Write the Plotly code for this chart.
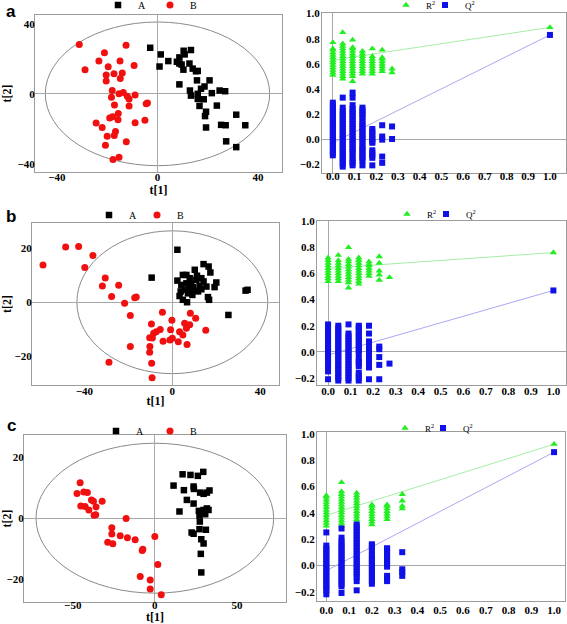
import plotly.graph_objects as go

W, H = 567, 624

# ---------------- score plot data ----------------
a_A_x = [-2.9, 1.3, 0.8, 4.3, 7.7, 8.7, 10.4, 13.3, 10.8, 9.6, 10.3, 8.7, 12.7, 14.0, 15.3, 16.0, 15.7, 8.7, 20.7, 18.7,
         17.3, 12.9, 13.3, 16.0, 16.0, 18.4, 21.6, 24.7, 26.9, 16.7, 23.6, 19.3, 18.9, 25.3, 27.1, 19.3, 31.3, 34.9, 27.3, 31.3]
a_A_y = [26.3, 22.5, 15.6, 18.7, 18.3, 20.8, 24.6, 25.0, 22.5, 16.7, 13.8, 17.3, 17.3, 14.4, 12.9, 13.1, 7.7, 5.4, 7.7, 4.2,
         2.9, 1.9, -1.0, 0.0, -2.9, -3.1, 0.4, 1.9, 1.5, -6.9, -6.7, -10.2, -12.7, -17.7, -17.9, -19.2, -11.9, -17.9, -27.1, -30.4]
a_B_x = [-31.1, -12.5, -28.8, -21.1, -23.3, -19.6, -14.9, -9.3, -20.4, -17.3, -14.0, -20.4, -14.8, -18.0, -18.3, -15.3, -13.6,
         -12.0, -11.3, -8.9, -17.1, -11.3, -4.5, -4.0, -15.6, -19.0, -17.9, -15.7, -8.9, -5.0, -24.4, -22.0, -16.7, -17.2, -20.0,
         -12.4, -20.7, -15.3, -17.7]
a_B_y = [28.1, 27.7, 13.8, 23.5, 18.7, 15.4, 18.8, 16.2, 10.8, 11.5, 11.9, 7.3, 8.8, 1.9, -1.9, 0.0, 0.8,
         -1.3, -2.9, -0.6, -6.3, -6.9, -5.6, -5.2, -11.2, -13.8, -13.1, -14.8, -16.5, -15.0, -16.7, -19.2, -21.5, -23.7, -24.2,
         -27.3, -29.4, -36.2, -37.5]

b_A_x = [2.3, -9.4, 2.3, 4.8, 6.4, 10.2, 14.2, 16.5, 17.3, 20.0, 19.2, 15.5, 13.2, 10.9, 7.9, 8.6, 4.1, 5.6, 3.8, 7.6,
         9.4, 11.7, 13.2, 12.4, 7.1, 10.2, 4.8, 6.7, 16.2, 16.7, 33.3, 34.2, 25.5, 6.4, 11.2, 14.2, 3.3, 9.1]
b_A_y = [19.4, 9.1, 8.0, 10.1, 10.1, 12.0, 14.1, 13.2, 11.0, 7.3, 5.6, 5.8, 8.9, 8.3, 8.9, 7.0, 6.4, 4.6, 4.0, 4.8,
         5.6, 4.0, 4.8, 6.0, 3.3, 4.3, 0.9, 0.0, 1.9, 0.9, 4.3, 4.6, -4.7, 7.0, 9.8, 7.7, 2.3, 2.7]
b_B_x = [-58.8, -48.5, -42.6, -36.1, -39.8, -30.5, -31.8, -24.4, -27.6, -21.7, -17.1, -16.4, -19.1, -4.5, -0.2, -9.5, -5.5,
         -7.3, -8.5, -10.3, -9.1, -10.2, -10.3, -9.4, -9.2, -19.1, -28.8, -4.2, -0.8, -1.1, 0.0, 3.3, 4.8, 5.6, 6.4, 7.9, 8.2,
         10.6, 2.7, 6.7, 15.2]
b_B_y = [13.8, 20.4, 20.6, 17.3, 12.8, 9.0, 6.0, 6.3, 2.1, -0.4, 1.7, 1.9, -4.9, -3.7, -6.7, -8.0, -10.1,
         -10.9, -11.5, -13.1, -13.2, -16.4, -18.5, -22.6, -27.9, -16.4, -22.2, -14.4, -10.2, -14.0, -13.3, -10.9, -12.1, -7.8,
         -9.6, -8.3, -4.1, -5.9, -14.6, -15.6, -10.4]

c_A_x = [16.9, 21.7, 26.2, 29.5, 11.4, 17.7, 23.6, 23.8, 27.6, 29.7, 31.7, 33.3, 19.5, 23.6, 15.0, 26.8, 31.7, 27.2, 30.7,
         27.4, 27.2, 22.4, 23.6, 31.1, 28.3, 29.7, 28.0, 28.3, 32.7, 29.7]
c_A_y = [14.4, 14.2, 13.9, 15.2, 10.7, 9.2, 10.4, 9.6, 8.4, 8.0, 8.4, 9.1, 6.0, 4.8, 2.2, 2.4, 3.2, 0.9, 1.3,
         -1.1, -3.6, -4.7, -5.1, -3.8, -6.9, -8.3, -11.7, -17.8, 2.7, 2.7]
c_B_x = [-45.5, -47.4, -43.3, -41.1, -38.6, -37.4, -32.1, -45.1, -42.5, -40.2, -35.8, -37.0, -36.0, -17.5, -26.2, -26.2,
         -21.1, -16.7, -12.0, -28.7, -25.6, -7.3, -7.7, 0.0, 1.8, -8.9, -2.8, -2.8, 3.9]
c_B_y = [11.6, 8.1, 8.6, 8.4, 6.0, 5.6, 5.6, 4.0, 3.8, 2.7, 3.7, 1.0, 1.1, -0.1, -3.1, -5.2,
         -5.8, -6.4, -7.1, -7.9, -8.4, -10.2, -10.6, -6.0, -15.2, -19.1, -20.3, -23.2, -25.1]

# Hotelling T2 ellipse semi-axes (t1, t2) per panel
ellipse_a = [44.6, 41.0]
ellipse_b = [43.4, 26.4]
ellipse_c = [72.4, 24.6]

# ---------------- permutation test data ----------------
a_cols = [0.0, 0.0455, 0.0909, 0.1364, 0.1818, 0.2273, 0.2727]
a_r2 = [
    [0.51, 0.53, 0.55, 0.57, 0.59, 0.61, 0.63, 0.65, 0.67, 0.69, 0.71, 0.72, 0.77],
    [0.48, 0.50, 0.52, 0.54, 0.56, 0.58, 0.60, 0.62, 0.64, 0.66, 0.68, 0.70, 0.72, 0.74, 0.76, 0.85],
    [0.46, 0.50, 0.52, 0.54, 0.56, 0.58, 0.60, 0.62, 0.64, 0.66, 0.68, 0.70, 0.72, 0.73, 0.79],
    [0.52, 0.54, 0.56, 0.58, 0.60, 0.62, 0.64, 0.66, 0.68, 0.70],
    [0.52, 0.54, 0.56, 0.58, 0.60, 0.62, 0.64, 0.66, 0.72],
    [0.54, 0.56, 0.58, 0.60, 0.62, 0.64, 0.65, 0.71],
    [0.53, 0.56],
]
a_q2 = [
    [-0.13, -0.11, -0.09, -0.07, -0.05, -0.03, -0.01, 0.01, 0.03, 0.05, 0.07, 0.09, 0.11, 0.13, 0.15, 0.17, 0.19, 0.21, 0.23,
     0.25, 0.27, 0.29],
    [-0.22, -0.20, -0.18, -0.16, -0.14, -0.12, -0.10, -0.08, -0.06, -0.04, -0.02, 0.0, 0.02, 0.04, 0.06, 0.08, 0.10, 0.12,
     0.14, 0.16, 0.18, 0.20, 0.22, 0.25, 0.33],
    [-0.21, -0.19, -0.17, -0.15, -0.12, -0.10, -0.08, -0.06, -0.04, -0.02, 0.0, 0.02, 0.04, 0.06, 0.08, 0.10, 0.12, 0.14,
     0.16, 0.18, 0.20, 0.22, 0.24, 0.27, 0.33, 0.37],
    [-0.21, -0.17, -0.15, -0.13, -0.11, -0.09, -0.07, -0.05, -0.02, 0.0, 0.02, 0.04, 0.06, 0.08, 0.10, 0.12, 0.14, 0.17,
     0.19, 0.21, 0.23, 0.25],
    [-0.21, -0.15, -0.13, -0.11, -0.09, -0.03, -0.02, 0.0, 0.02, 0.04, 0.06, 0.08],
    [-0.19, -0.14, -0.005, 0.02, 0.11],
    [0.0, 0.10],
]
a_model = [1.0, 0.89, 0.83]          # x, R2, Q2 of the real model
a_intercepts = [0.63, -0.03]         # R2, Q2 regression intercepts

b_cols = [0.0, 0.0455, 0.0909, 0.1364, 0.1818, 0.2273, 0.2727]
b_r2 = [
    [0.54, 0.56, 0.58, 0.60, 0.62, 0.64, 0.66, 0.68, 0.70, 0.72],
    [0.54, 0.56, 0.58, 0.60, 0.62, 0.64, 0.66, 0.68, 0.70, 0.74],
    [0.49, 0.53, 0.55, 0.57, 0.59, 0.61, 0.63, 0.65, 0.67, 0.69, 0.71, 0.80],
    [0.52, 0.54, 0.56, 0.58, 0.60, 0.62, 0.64, 0.66, 0.68, 0.70, 0.72],
    [0.58, 0.60, 0.62, 0.64, 0.66, 0.67, 0.69],
    [0.55, 0.59, 0.62, 0.68, 0.73],
    [0.57],
]
b_q2 = [
    [-0.21, -0.15, -0.11, -0.09, -0.07, -0.05, -0.03, -0.01, 0.01, 0.03, 0.05, 0.07, 0.09, 0.11, 0.13, 0.15, 0.17, 0.19,
     0.21],
    [-0.22, -0.20, -0.18, -0.16, -0.14, -0.12, -0.10, -0.08, -0.06, -0.04, -0.02, 0.0, 0.02, 0.04, 0.06, 0.08, 0.10, 0.12,
     0.14, 0.16, 0.18, 0.20],
    [-0.22, -0.20, -0.18, -0.16, -0.14, -0.12, -0.10, -0.08, -0.06, -0.04, -0.02, 0.0, 0.02, 0.04, 0.06, 0.08, 0.10, 0.12,
     0.14, 0.21],
    [-0.22, -0.20, -0.18, -0.16, -0.11, -0.09, -0.07, -0.05, -0.01, 0.01, 0.03, 0.05, 0.07, 0.09, 0.11, 0.13, 0.15, 0.17,
     0.19, 0.20],
    [-0.21, -0.12, -0.08, -0.06, -0.04, -0.02, 0.0, 0.02, 0.04, 0.06, 0.08, 0.14, 0.20],
    [-0.21, -0.10, -0.04, 0.02, 0.04],
    [-0.09],
]
b_model = [1.0, 0.76, 0.47]
b_intercepts = [0.64, -0.025]

c_cols = [0.0, 0.0667, 0.1333, 0.2, 0.2667, 0.3333]
c_r2 = [
    [0.30, 0.32, 0.34, 0.36, 0.38, 0.40, 0.42, 0.44, 0.46, 0.48, 0.50, 0.52, 0.53],
    [0.30, 0.32, 0.34, 0.36, 0.38, 0.40, 0.42, 0.44, 0.46, 0.48, 0.50, 0.52, 0.54, 0.56, 0.63],
    [0.31, 0.33, 0.35, 0.37, 0.39, 0.41, 0.43, 0.45, 0.47, 0.49, 0.51, 0.53, 0.55],
    [0.31, 0.33, 0.35, 0.37, 0.39, 0.41, 0.43, 0.45, 0.46],
    [0.35, 0.37, 0.39, 0.41, 0.43, 0.45, 0.46],
    [0.43, 0.45, 0.49, 0.54],
]
c_q2 = [
    [-0.22, -0.19, -0.17, -0.15, -0.13, -0.11, -0.09, -0.07, -0.05, -0.03, -0.01, 0.01, 0.03, 0.05, 0.07, 0.09, 0.11, 0.13,
     0.15, 0.25],
    [-0.21, -0.16, -0.14, -0.12, -0.10, -0.08, -0.06, -0.04, -0.02, 0.0, 0.02, 0.04, 0.06, 0.08, 0.10, 0.12, 0.14, 0.16,
     0.18, 0.21, 0.28],
    [-0.19, -0.12, -0.09, -0.07, -0.05, -0.03, -0.01, 0.01, 0.03, 0.05, 0.07, 0.09, 0.11, 0.13, 0.15, 0.17, 0.19, 0.21,
     0.23, 0.25, 0.27, 0.29, 0.31],
    [-0.14, -0.12, -0.10, -0.08, -0.06, -0.04, -0.02, 0.0, 0.02, 0.04, 0.06, 0.08, 0.11, 0.13, 0.15, 0.16],
    [-0.12, -0.10, -0.08, -0.01, 0.01, 0.03, 0.04, 0.06, 0.08, 0.10, 0.12, 0.13],
    [-0.08, -0.05, -0.03, 0.10],
]
c_model = [1.0, 0.92, 0.86]
c_intercepts = [0.38, -0.04]

score_ticks = {"a": ([-40, 0, 40], [-40, 0, 40]), "b": ([-40, 0, 40], [-20, 0, 20]), "c": ([-50, 0, 50], [-20, 0, 20])}
perm_xticks = [0.0, 0.1, 0.2, 0.3, 0.4, 0.5, 0.6, 0.7, 0.8, 0.9, 1.0]
perm_yticks = [-0.2, 0.0, 0.2, 0.4, 0.6, 0.8, 1.0]

# ---------------- layout helpers ----------------
def px_dom_x(x0, x1):
    return [x0 / W, x1 / W]

def px_dom_y(y0, y1):
    return [1 - y1 / H, 1 - y0 / H]

SERIF = "Liberation Serif"
tickfont = dict(family=SERIF, size=11, color="black", weight="bold")
titlefont = dict(family=SERIF, size=12, color="black", weight="bold")
BOX = "#9c9c9c"
ZERO = "#a8a8a8"
LEG_DX = 20  # px from legend left edge to symbol centre (approx.)

fig = go.Figure()

def base_axis(domain, rng, tickvals, fmt=None, lab_off=0):
    d = dict(domain=domain, range=rng, tickvals=tickvals, showgrid=False, zeroline=True, zerolinecolor=ZERO,
             zerolinewidth=1, showline=True, mirror=True, linecolor=BOX, linewidth=1, ticks="",
             tickfont=tickfont, fixedrange=True, automargin=False, ticklabelstandoff=lab_off)
    if fmt:
        d["tickformat"] = fmt
    return d

layout = dict(width=W, height=H, margin=dict(l=0, r=0, t=0, b=0, autoexpand=False), plot_bgcolor="white",
              paper_bgcolor="white", shapes=[], annotations=[])

leg_counter = [0]

def new_legend(sym_x, sym_y, size):
    leg_counter[0] += 1
    name = "legend" if leg_counter[0] == 1 else f"legend{leg_counter[0]}"
    layout[name] = dict(x=(sym_x - LEG_DX) / W, y=1 - sym_y / H, xanchor="left", yanchor="middle",
                        font=dict(family=SERIF, size=size, color="black"), bgcolor="rgba(0,0,0,0)",
                        itemclick=False, itemdoubleclick=False)
    return name

# score panels: (name, axis index, x domain px, y domain px, x range, y range, data, ellipse, legend symbol px,
#                panel-letter top y px, x-title standoff, x tick-label offset)
score_panels = [
    ("a", 1, (35, 282), (15, 172), [-48.7, 49.5], [-44.6, 45.0], (a_A_x, a_A_y, a_B_x, a_B_y), ellipse_a,
     ((118, 5), (170, 5)), 0, 1, -5),
    ("b", 3, (32, 279), (223, 385), [-63.8, 48.5], [-30.6, 29.3], (b_A_x, b_A_y, b_B_x, b_B_y), ellipse_b,
     ((109, 215), (157, 215)), 205, 0, -4),
    ("c", 5, (24, 286), (435, 602), [-79.7, 79.9], [-27.5, 27.3], (c_A_x, c_A_y, c_B_x, c_B_y), ellipse_c,
     ((116, 431), (170, 431)), 414, 1, -7),
]
perm_panels = [
    ("a", 2, (322, 566), (13, 173), [-0.05, 1.074], [-0.271, 1.005], a_cols, a_r2, a_q2, a_model, a_intercepts,
     ((406, 5), (445, 5)), -7),
    ("b", 4, (317, 566), (221, 385), [-0.049, 1.056], [-0.254, 1.002], b_cols, b_r2, b_q2, b_model, b_intercepts,
     ((407, 214), (446, 214)), -4),
    ("c", 6, (317, 565), (432, 601), [-0.041, 1.048], [-0.271, 1.013], c_cols, c_r2, c_q2, c_model, c_intercepts,
     ((405, 428), (443, 428)), -1),
]

for name, k, dx, dy, xr, yr, data, ell, legpos, lab_y, t_off, x_lab in score_panels:
    xa, ya = f"xaxis{k}", f"yaxis{k}"
    xr_, yr_ = f"x{k}", f"y{k}"
    layout[xa] = base_axis(px_dom_x(*dx), xr, score_ticks[name][0], lab_off=x_lab)
    layout[xa]["anchor"] = yr_
    layout[xa]["title"] = dict(text="t[1]", font=titlefont, standoff=t_off)
    layout[ya] = base_axis(px_dom_y(*dy), yr, score_ticks[name][1], lab_off=-3)
    layout[ya]["anchor"] = xr_
    layout[ya]["title"] = dict(text="t[2]", font=titlefont, standoff=4)
    layout["shapes"].append(dict(type="circle", xref=xr_, yref=yr_, x0=-ell[0], x1=ell[0], y0=-ell[1], y1=ell[1],
                                 line=dict(color="#8a8a8a", width=1), layer="below"))
    Ax, Ay, Bx, By = data
    legA = new_legend(legpos[0][0], legpos[0][1], 10)
    fig.add_trace(go.Scatter(x=Ax, y=Ay, mode="markers", name="A", xaxis=xr_, yaxis=yr_, legend=legA,
                             marker=dict(symbol="square", size=6.5, color="black", line=dict(width=0))))
    legB = new_legend(legpos[1][0], legpos[1][1], 10)
    fig.add_trace(go.Scatter(x=Bx, y=By, mode="markers", name="B", xaxis=xr_, yaxis=yr_, legend=legB,
                             marker=dict(symbol="circle", size=7, color="#f01010", line=dict(width=0))))
    layout["annotations"].append(dict(text=name, x=11 / W, y=1 - lab_y / H,
                                      xref="paper", yref="paper", xanchor="center", yanchor="top", showarrow=False,
                                      font=dict(family="Liberation Sans", size=17, color="black", weight="bold")))

for name, k, dx, dy, xr, yr, cols, r2, q2, model, icpt, legpos, x_lab in perm_panels:
    xa, ya = f"xaxis{k}", f"yaxis{k}"
    xr_, yr_ = f"x{k}", f"y{k}"
    layout[xa] = base_axis(px_dom_x(*dx), xr, perm_xticks, ".1f", lab_off=x_lab)
    layout[xa]["anchor"] = yr_
    layout[ya] = base_axis(px_dom_y(*dy), yr, perm_yticks, ".1f", lab_off=-1)
    layout[ya]["anchor"] = xr_
    # regression lines (drawn under the points)
    fig.add_trace(go.Scatter(x=[0.0, model[0]], y=[icpt[0], model[1]], mode="lines", xaxis=xr_, yaxis=yr_,
                             line=dict(color="#a6eea6", width=1), showlegend=False, hoverinfo="skip"))
    fig.add_trace(go.Scatter(x=[0.0, model[0]], y=[icpt[1], model[2]], mode="lines", xaxis=xr_, yaxis=yr_,
                             line=dict(color="#a9a9f2", width=1), showlegend=False, hoverinfo="skip"))
    rx, ry, qx, qy = [], [], [], []
    for c, vals in zip(cols, r2):
        rx += [c] * len(vals)
        ry += vals
    for c, vals in zip(cols, q2):
        qx += [c] * len(vals)
        qy += vals
    rx.append(model[0]); ry.append(model[1])
    qx.append(model[0]); qy.append(model[2])
    legR = new_legend(legpos[0][0], legpos[0][1], 9)
    fig.add_trace(go.Scatter(x=rx, y=ry, mode="markers", name="R<sup>2</sup>", xaxis=xr_, yaxis=yr_, legend=legR,
                             marker=dict(symbol="triangle-up", size=6.5, color="#22ee22", line=dict(width=0))))
    legQ = new_legend(legpos[1][0], legpos[1][1], 9)
    fig.add_trace(go.Scatter(x=qx, y=qy, mode="markers", name="Q<sup>2</sup>", xaxis=xr_, yaxis=yr_, legend=legQ,
                             marker=dict(symbol="square", size=6, color="#1010e8", line=dict(width=0))))

fig.update_layout(**layout)
fig.write_html("out.html", config={"displayModeBar": False},
               post_script="document.body.style.margin='0px';document.body.style.padding='0px';")
